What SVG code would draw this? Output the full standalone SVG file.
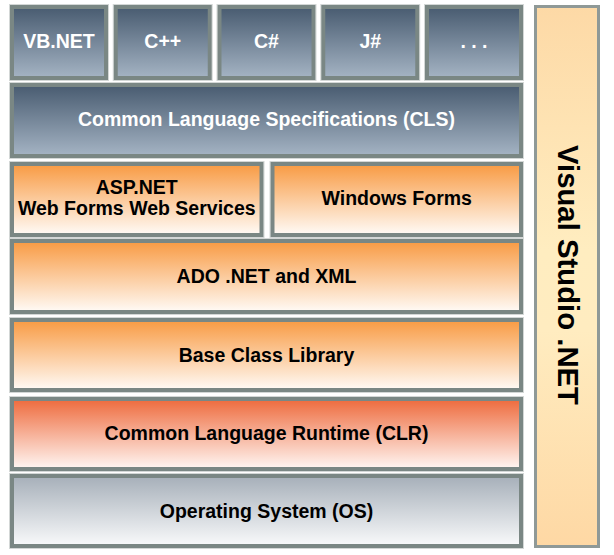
<svg xmlns="http://www.w3.org/2000/svg" width="614" height="555" viewBox="0 0 614 555">
<defs>
<linearGradient id="gBlue" x1="0" y1="0" x2="0" y2="1"><stop offset="0" stop-color="#485b70"/><stop offset="1" stop-color="#a5b4c4"/></linearGradient>
<linearGradient id="gOrange" x1="0" y1="0" x2="0" y2="1"><stop offset="0" stop-color="#f89a42"/><stop offset="1" stop-color="#fffbf7"/></linearGradient>
<linearGradient id="gRed" x1="0" y1="0" x2="0" y2="1"><stop offset="0" stop-color="#ee6a3c"/><stop offset="1" stop-color="#fff7f4"/></linearGradient>
<linearGradient id="gGray" x1="0" y1="0" x2="0" y2="1"><stop offset="0" stop-color="#a6afb9"/><stop offset="1" stop-color="#f9fafb"/></linearGradient>
<linearGradient id="gVS" x1="0" y1="0" x2="0" y2="1"><stop offset="0" stop-color="#fdd9a6"/><stop offset="0.45" stop-color="#ffedc0"/><stop offset="0.6" stop-color="#ffecc0"/><stop offset="1" stop-color="#fed8a4"/></linearGradient>
</defs>
<style>
.box{stroke:#7a8784;stroke-width:4}
.halo{fill:none;stroke:#d3d7d6;stroke-width:1}
.blue{fill:url(#gBlue)}
.orange{fill:url(#gOrange)}
.red{fill:url(#gRed)}
.gray{fill:url(#gGray)}
text{font-family:"Liberation Sans",Arial,sans-serif;font-weight:bold;font-size:19.5px;text-anchor:middle}
.w{fill:#ffffff}
.k{fill:#000000}
</style>
<rect width="614" height="555" fill="#ffffff"/>
<g id="vbnet"><rect class="halo" x="9.5" y="4.5" width="99" height="76"/><rect class="box blue" x="12" y="7" width="94" height="71"/><text class="w" x="59" y="48">VB.NET</text></g>
<g id="cpp"><rect class="halo" x="113.25" y="4.5" width="99" height="76"/><rect class="box blue" x="115.75" y="7" width="94" height="71"/><text class="w" x="162.75" y="48">C++</text></g>
<g id="csharp"><rect class="halo" x="217" y="4.5" width="99" height="76"/><rect class="box blue" x="219.5" y="7" width="94" height="71"/><text class="w" x="266.5" y="48">C#</text></g>
<g id="jsharp"><rect class="halo" x="320.75" y="4.5" width="99" height="76"/><rect class="box blue" x="323.25" y="7" width="94" height="71"/><text class="w" x="370.25" y="48">J#</text></g>
<g id="more"><rect class="halo" x="424.5" y="4.5" width="99" height="76"/><rect class="box blue" x="427" y="7" width="94" height="71"/><text class="w" x="474" y="48">. . .</text></g>
<g id="cls"><rect class="halo" x="9.5" y="82.5" width="514" height="76"/><rect class="box blue" x="12" y="85" width="509" height="71"/><text class="w" x="266.5" y="126">Common Language Specifications (CLS)</text></g>
<g id="aspnet"><rect class="halo" x="9.5" y="161.5" width="254.5" height="76"/><rect class="box orange" x="12" y="164" width="249.5" height="71"/><text class="k" x="136.75" y="194">ASP.NET</text><text class="k" x="136.75" y="214.5">Web Forms Web Services</text></g>
<g id="winforms"><rect class="halo" x="270" y="161.5" width="253.5" height="76"/><rect class="box orange" x="272.5" y="164" width="248.5" height="71"/><text class="k" x="396.75" y="204.5">Windows Forms</text></g>
<g id="ado"><rect class="halo" x="9.5" y="238.5" width="514" height="76"/><rect class="box orange" x="12" y="241" width="509" height="71"/><text class="k" x="266.5" y="283">ADO .NET and XML</text></g>
<g id="bcl"><rect class="halo" x="9.5" y="317.5" width="514" height="75"/><rect class="box orange" x="12" y="320" width="509" height="70"/><text class="k" x="266.5" y="361.5">Base Class Library</text></g>
<g id="clr"><rect class="halo" x="9.5" y="396.5" width="514" height="75"/><rect class="box red" x="12" y="399" width="509" height="70"/><text class="k" x="266.5" y="439.5">Common Language Runtime (CLR)</text></g>
<g id="os"><rect class="halo" x="9.5" y="473.5" width="514" height="75"/><rect class="box gray" x="12" y="476" width="509" height="70"/><text class="k" x="266.5" y="517.5">Operating System (OS)</text></g>
<g id="vs"><rect x="535.5" y="6.5" width="63" height="540" fill="url(#gVS)" stroke="#8f9997" stroke-width="3"/><text class="k" transform="translate(558,275) rotate(90)" x="0" y="0" style="font-size:29px" textLength="260" lengthAdjust="spacingAndGlyphs">Visual Studio .NET</text></g>
<g id="connectors"/>
</svg>
